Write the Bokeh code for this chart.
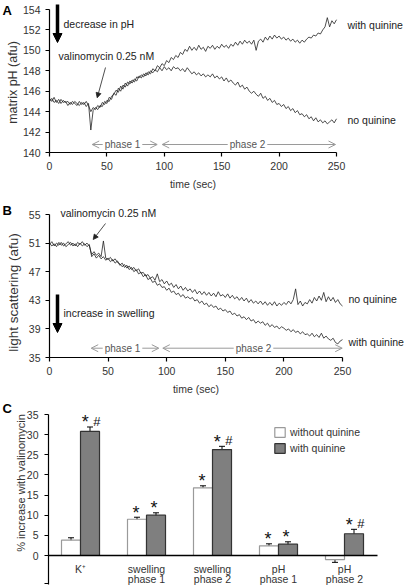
import math
import numpy as np
from bokeh.plotting import figure
from bokeh.layouts import column
from bokeh.models import (Range1d, FixedTicker, Label, Arrow, NormalHead, OpenHead,
                          Whisker, TeeHead, ColumnDataSource, Legend, LegendItem)
from bokeh.embed import file_html
from bokeh.resources import INLINE
from bokeh.core.properties import value

FONT = "Liberation Sans"
TXT = "#222222"

# ---------------- data ----------------
time_s = np.arange(0, 251, 2)  # sampling grid, seconds

ph_no_quinine = [
    145.3, 145.0, 145.4, 144.9, 145.2, 144.8, 145.1, 144.9, 145.0, 144.7,
    145.0, 144.8, 144.6, 145.0, 144.7, 144.9, 144.5, 144.8, 142.2, 144.1,
    144.4, 144.2, 144.6, 144.5, 145.0, 144.8, 145.4, 145.2, 145.8, 145.6,
    146.3, 146.0, 146.6, 146.4, 146.9, 146.7, 147.1, 146.9, 147.4, 147.3,
    147.6, 147.4, 147.8, 147.6, 148.0, 147.8, 148.1, 147.9, 148.3, 148.0,
    148.4, 148.1, 148.3, 148.0, 148.4, 148.2, 148.3, 148.0, 148.2, 147.9,
    148.3, 148.0, 147.7, 147.9, 147.6, 147.8, 147.5, 147.7, 147.4, 147.6,
    147.4, 147.7, 147.3, 147.5, 147.2, 147.4, 147.0, 147.3, 146.9, 147.1,
    146.8, 146.6, 146.9, 146.4, 146.6, 146.2, 146.4, 146.0, 145.8, 146.0,
    145.7, 145.5, 145.8, 145.3, 145.5, 145.1, 145.3, 144.9, 145.1, 144.7,
    144.8, 144.5, 144.7, 144.3, 144.5, 144.1, 144.3, 143.9, 144.1, 143.7,
    143.8, 143.5, 143.7, 143.3, 143.5, 143.1, 143.4, 143.0, 143.2, 142.9,
    143.1, 142.8, 143.0, 143.2, 142.9, 143.3,
]
ph_with_quinine = [
    145.0, 145.3, 144.9, 145.1, 144.8, 145.2, 144.9, 145.0, 144.6, 144.9,
    144.7, 145.0, 144.8, 144.6, 144.9, 144.7, 145.0, 144.6, 144.0, 144.4,
    144.2, 144.6, 144.4, 144.9, 144.7, 145.1, 145.0, 145.5, 145.7, 146.1,
    145.9, 146.5, 146.2, 146.8, 146.5, 147.0, 146.8, 147.2, 147.0, 147.5,
    147.3, 147.7, 147.5, 147.9, 147.7, 148.2, 148.0, 148.5, 148.3, 148.7,
    148.5, 149.0, 148.8, 149.3, 149.1, 149.5, 149.3, 149.8, 149.6, 150.1,
    149.9, 150.4, 150.0, 150.3, 150.0, 150.5, 150.1, 150.3, 149.9, 150.4,
    150.2, 150.5, 150.1, 150.4, 150.2, 150.6, 150.3, 150.5, 150.2, 150.6,
    150.4, 150.8, 150.5, 150.9, 150.6, 151.0, 150.7, 150.9, 150.6, 151.0,
    150.0, 150.9, 151.1, 150.8, 151.3, 151.0, 151.4, 151.1, 151.5, 151.2,
    151.4, 151.1, 151.3, 151.0, 151.2, 150.9, 151.1, 150.8, 151.0, 150.7,
    151.0, 150.8, 151.1, 151.3, 151.2, 151.5, 151.4, 151.7, 151.6, 152.0,
    152.3, 153.2, 152.3, 152.9, 152.6, 153.0,
]
ls_no_quinine = [
    50.8, 51.2, 50.6, 51.0, 50.7, 51.1, 50.6, 50.9, 51.2, 50.7,
    51.0, 50.6, 51.1, 50.8, 51.2, 50.7, 51.0, 50.6, 49.4, 49.8,
    49.3, 49.6, 49.1, 51.3, 48.9, 48.7, 49.0, 48.5, 48.8, 48.3,
    48.1, 47.7, 48.0, 47.5, 47.8, 47.3, 47.6, 47.1, 47.4, 46.8,
    46.9, 46.4, 46.6, 46.1, 46.3, 45.8, 46.7, 45.6, 45.9, 45.3,
    45.7, 45.1, 45.4, 44.8, 45.2, 44.6, 45.0, 44.4, 44.8, 44.3,
    44.6, 44.1, 44.5, 43.9, 44.3, 43.8, 44.2, 43.7, 44.1, 43.6,
    44.0, 43.5, 44.2, 43.6, 43.8, 43.4, 43.9, 43.3, 43.7, 43.2,
    43.5, 43.0, 43.4, 42.9, 43.3, 42.7, 43.1, 42.6, 42.9, 42.5,
    42.9, 42.4, 42.8, 42.3, 42.7, 42.3, 42.8, 42.2, 42.6, 42.3,
    42.7, 42.4, 42.9, 42.5, 43.1, 44.6, 42.4, 42.9, 42.2, 42.7,
    42.5, 43.1, 42.6, 43.4, 42.9, 43.6, 43.0, 44.1, 42.8, 43.5,
    42.9, 43.4, 42.7, 43.1, 42.5, 42.2,
]
ls_with_quinine = [
    51.0, 50.6, 50.9, 50.5, 51.1, 50.7, 51.0, 50.5, 50.8, 51.1,
    50.6, 50.9, 50.5, 51.0, 50.6, 50.9, 50.5, 50.8, 49.1, 49.5,
    48.9, 49.3, 48.8, 49.1, 48.6, 48.9, 48.4, 48.7, 48.2, 48.5,
    47.9, 48.2, 47.6, 47.9, 47.3, 47.6, 47.0, 47.3, 46.7, 46.9,
    46.3, 46.6, 45.9, 46.1, 45.5, 45.7, 45.1, 45.3, 44.8, 44.9,
    44.4, 44.7, 44.1, 44.3, 43.8, 44.0, 43.5, 43.8, 43.3, 43.5,
    43.2, 43.4, 42.9, 43.1, 42.6, 42.9, 42.4, 42.6, 42.1, 42.4,
    42.0, 42.2, 41.7, 41.9, 41.5, 41.7, 41.3, 41.5, 41.0, 41.2,
    40.8, 41.0, 40.5, 40.7, 40.3, 40.6, 40.1, 40.3, 39.8, 40.1,
    39.8, 40.0, 39.5, 39.8, 39.3, 39.6, 39.2, 39.4, 39.0, 39.3,
    39.1, 38.8, 39.0, 38.6, 38.9, 38.5, 38.7, 38.3, 38.6, 38.2,
    38.3, 38.0, 38.4, 37.9, 38.2, 37.8, 38.4, 37.7, 38.0, 37.6,
    37.4, 37.7, 37.1, 36.9, 37.3, 37.5,
]

time_ticks = [0, 50, 100, 150, 200, 250]
ph_ticks = [140, 142, 144, 146, 148, 150, 152, 154]
ls_ticks = [35, 39, 43, 47, 51, 55]
pct_ticks = [-7, 0, 5, 10, 15, 20, 25, 30, 35]

cat_line1 = ["K\u207a", "swelling", "swelling", "pH", "pH"]
cat_line2 = ["", "phase 1", "phase 2", "phase 1", "phase 2"]
without_quinine = [3.8, 9.0, 16.8, 2.4, -1.0]
without_err = [0.6, 0.5, 0.5, 0.5, 0.7]
with_quinine = [30.8, 10.0, 26.3, 2.8, 5.4]
with_err = [1.1, 0.6, 0.8, 0.6, 1.1]
star_without = ["", "*", "*", "*", ""]
star_with = ["*", "*", "*", "*", "*"]
hash_with = ["#", "", "#", "", "#"]

W = 404


def mapper(pa, va, pb, vb):
    """pixel (figure-local) -> data value, linear through two anchor points"""
    return lambda px: va + (px - pa) * (vb - va) / (pb - pa)


def make_fig(h, X, Y):
    p = figure(width=W, height=h, x_range=Range1d(X(0), X(W)), y_range=Range1d(Y(h), Y(0)),
               output_backend="svg", toolbar_location=None,
               min_border=0, min_border_left=0, min_border_right=0,
               min_border_top=0, min_border_bottom=0)
    p.outline_line_color = None
    p.grid.visible = False
    for ax in p.axis:
        ax.axis_line_color = "black"
        ax.axis_line_width = 1.2
        ax.major_tick_line_color = "black"
        ax.major_tick_line_width = 1.2
        ax.major_tick_out = 4
        ax.major_tick_in = 0
        ax.minor_tick_line_color = None
        ax.major_label_text_font = FONT
        ax.major_label_text_font_size = "10.5px"
        ax.major_label_text_color = "#333333"
        ax.major_label_standoff = 5
        ax.axis_label_text_font = FONT
        ax.axis_label_text_font_size = "10.5px"
        ax.axis_label_text_font_style = "normal"
        ax.axis_label_text_color = "#333333"
    return p


def lab(p, X, Y, px, py, text, size="10.5px", align="left", baseline="middle", bold=False,
        angle=0.0, bg=None, color=TXT):
    l = Label(x=X(px), y=Y(py), text=text, text_font=FONT, text_font_size=size,
              text_align=align, text_baseline=baseline, text_color=color, angle=angle,
              text_font_style="bold" if bold else "normal")
    if bg is not None:
        l.background_fill_color = bg
    p.add_layout(l)


def phase_arrow(p, X, Y, px0, px1, py, text, pxt):
    p.add_layout(Arrow(x_start=X(px0), y_start=Y(py), x_end=X(px1), y_end=Y(py),
                       line_color="#9a9a9a", line_width=1,
                       start=OpenHead(size=7, line_color="#9a9a9a", line_width=1),
                       end=OpenHead(size=7, line_color="#9a9a9a", line_width=1)))
    lab(p, X, Y, pxt, py, "\u2009" + text + "\u2009", size="10px", align="center",
        bg="white", color="#555555")


def big_arrow(p, X, Y, px, py0, py1):
    p.add_layout(Arrow(x_start=X(px), y_start=Y(py0), x_end=X(px), y_end=Y(py1),
                       line_color="black", line_width=3.5,
                       end=NormalHead(size=9, fill_color="black", line_color="black",
                                      line_width=1)))


def thin_arrow(p, X, Y, px0, py0, px1, py1):
    p.add_layout(Arrow(x_start=X(px0), y_start=Y(py0), x_end=X(px1), y_end=Y(py1),
                       line_color="#222222", line_width=0.8,
                       end=NormalHead(size=5, fill_color="#222222", line_color="#222222",
                                      line_width=0.8)))


# ---------------- panel A (page y 0..196) ----------------
hA = 196
XA = mapper(49, 0, 336, 250)
YA = mapper(9, 154, 152, 140)
pA = make_fig(hA, XA, YA)
pA.line(time_s, ph_no_quinine, line_color="#222222", line_width=0.8)
pA.line(time_s, ph_with_quinine, line_color="#222222", line_width=0.8)
pA.xaxis.ticker = FixedTicker(ticks=time_ticks)
pA.yaxis.ticker = FixedTicker(ticks=ph_ticks)
pA.xaxis.fixed_location = 140
pA.xaxis.bounds = (0, 250)
pA.yaxis.fixed_location = 0
pA.yaxis.bounds = (140, 154)
lab(pA, XA, YA, 192.5, 183, "time (sec)", align="center", color="#333333")
lab(pA, XA, YA, 12.5, 82, "matrix pH (afu)", size="12.5px", align="center",
    angle=math.pi / 2, color="#333333")
lab(pA, XA, YA, 2, 2, "A", size="13px", baseline="top", bold=True, color="black")
big_arrow(pA, XA, YA, 57, 4, 42)
lab(pA, XA, YA, 63, 23, "decrease in pH")
lab(pA, XA, YA, 58, 55, "valinomycin 0.25 nM")
thin_arrow(pA, XA, YA, 105, 67, 96.7, 97.3)
lab(pA, XA, YA, 347, 24, "with quinine")
lab(pA, XA, YA, 347, 119, "no quinine")
phase_arrow(pA, XA, YA, 91.7, 156.7, 144, "phase 1", 122)
phase_arrow(pA, XA, YA, 161.7, 335, 144, "phase 2", 247)

# ---------------- panel B (page y 196..396) ----------------
hB = 200
XB = mapper(49, 0, 342, 250)
YB = mapper(18, 55, 161, 35)
pB = make_fig(hB, XB, YB)
pB.line(time_s, ls_no_quinine, line_color="#222222", line_width=0.8)
pB.line(time_s, ls_with_quinine, line_color="#222222", line_width=0.8)
pB.xaxis.ticker = FixedTicker(ticks=time_ticks)
pB.yaxis.ticker = FixedTicker(ticks=ls_ticks)
pB.xaxis.fixed_location = 35
pB.xaxis.bounds = (0, 250)
pB.yaxis.fixed_location = 0
pB.yaxis.bounds = (35, 55)
lab(pB, XB, YB, 195.5, 192, "time (sec)", align="center", color="#333333")
lab(pB, XB, YB, 12.5, 96, "light scattering (afu)", size="13.5px", align="center",
    angle=math.pi / 2, color="#333333")
lab(pB, XB, YB, 2, 6, "B", size="13px", baseline="top", bold=True, color="black")
lab(pB, XB, YB, 60, 16, "valinomycin 0.25 nM")
thin_arrow(pB, XB, YB, 105, 27, 92.7, 43)
big_arrow(pB, XB, YB, 57, 98, 136)
lab(pB, XB, YB, 63, 116, "increase in swelling")
lab(pB, XB, YB, 348, 102, "no quinine")
lab(pB, XB, YB, 348, 145, "with quinine")
phase_arrow(pB, XB, YB, 90.7, 158.3, 151.7, "phase 1", 122)
phase_arrow(pB, XB, YB, 162.3, 341.7, 151.7, "phase 2", 253)

# ---------------- panel C (page y 396..585) ----------------
hC = 189
XC = mapper(48, 0.015, 377, 5.0)
YC = mapper(18, 35, 159, 0)
pC = make_fig(hC, XC, YC)
ncat = len(cat_line1)
x_cat = [i + 0.5 for i in range(ncat)]
bw = 0.288
src_wo = ColumnDataSource(dict(
    x=[x - bw / 2 for x in x_cat], top=without_quinine,
    upper=[v + e for v, e in zip(without_quinine, without_err)],
    lower=[v - e for v, e in zip(without_quinine, without_err)],
    star=star_without, hash=["" for _ in star_without],
    sdx=[-1.0 for _ in star_without]))
src_w = ColumnDataSource(dict(
    x=[x + bw / 2 for x in x_cat], top=with_quinine,
    upper=[v + e for v, e in zip(with_quinine, with_err)],
    lower=[v - e for v, e in zip(with_quinine, with_err)],
    star=star_with, hash=hash_with,
    sdx=[-4.8 if h else -2.0 for h in hash_with]))

pC.yaxis.ticker = FixedTicker(ticks=pct_ticks)
pC.yaxis.major_label_overrides = {-7: ""}
pC.yaxis.major_label_standoff = 6
pC.yaxis.fixed_location = 0.015
pC.yaxis.bounds = (-7.2, 35)
pC.xaxis.fixed_location = 0
pC.xaxis.bounds = (0.015, 5.0)
pC.xaxis.ticker = FixedTicker(ticks=[])
pC.xaxis.major_tick_out = 0
pC.xaxis.axis_line_width = 1.4

r_wo = pC.vbar(x="x", top="top", bottom=0, width=bw, source=src_wo, fill_color="white",
               line_color="#9a9a9a", line_width=1.2)
r_w = pC.vbar(x="x", top="top", bottom=0, width=bw, source=src_w, fill_color="#7f7f7f",
              line_color="#333333", line_width=1.2)
for src in (src_wo, src_w):
    pC.add_layout(Whisker(source=src, base="x", upper="upper", lower="lower",
                          line_color="black", line_width=1,
                          upper_head=TeeHead(size=6, line_color="black", line_width=1),
                          lower_head=TeeHead(size=6, line_color="black", line_width=1)))
    pC.text(x="x", y="upper", text="star", source=src, text_font=value(FONT),
            text_font_size="18px", text_align="center", text_baseline="alphabetic",
            x_offset="sdx", y_offset=-4.5, text_color="#111111")
    pC.text(x="x", y="upper", text="hash", source=src, text_font=value(FONT),
            text_font_size="13px", text_align="center", text_baseline="alphabetic",
            x_offset=6.8, y_offset=-5.5, text_color="#111111")
pC.text(x=x_cat, y=YC(172), text=cat_line1, text_font=value(FONT), text_font_size="10.5px",
        text_align="center", text_baseline="middle", text_color="#333333")
pC.text(x=x_cat, y=YC(182), text=cat_line2, text_font=value(FONT), text_font_size="10.5px",
        text_align="center", text_baseline="middle", text_color="#333333")
lab(pC, XC, YC, 20, 86.5, "% increase with valinomycin", size="11px", align="center",
    angle=math.pi / 2, color="#333333")
lab(pC, XC, YC, 2, 4, "C", size="13px", baseline="top", bold=True, color="black")
legend = Legend(items=[LegendItem(label="without quinine", renderers=[r_wo]),
                       LegendItem(label="with quinine", renderers=[r_w])],
                location=(273, 131), glyph_width=13, glyph_height=12, label_height=12,
                label_width=20, label_standoff=4, spacing=4, padding=0, margin=0,
                border_line_alpha=0, background_fill_alpha=0,
                label_text_font=FONT, label_text_font_size="10.5px",
                label_text_color="#333333")
pC.add_layout(legend)

layout = column(pA, pB, pC, spacing=0)
open("out.html", "w").write(file_html(layout, INLINE))
